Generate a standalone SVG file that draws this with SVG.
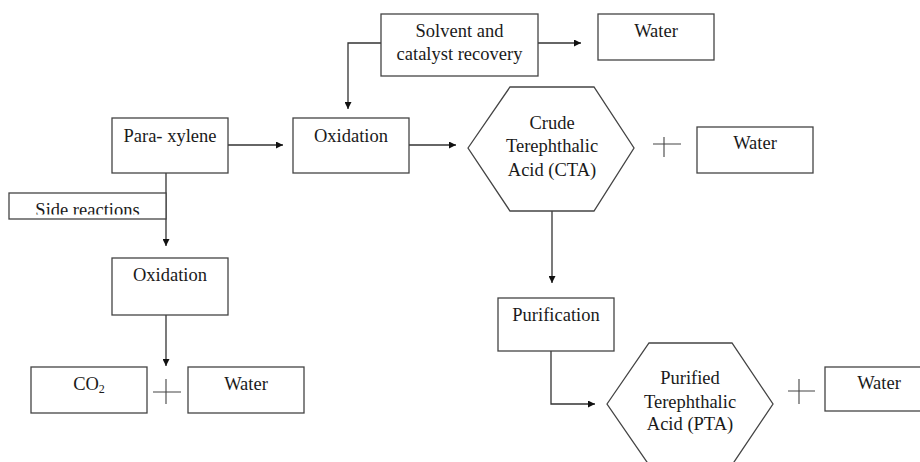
<svg xmlns="http://www.w3.org/2000/svg" width="920" height="462" viewBox="0 0 920 462">
<style>
.box{fill:#fff;stroke:#444;stroke-width:1.3}
.ln{fill:none;stroke:#333;stroke-width:1.3}
.plus{fill:none;stroke:#444;stroke-width:1.1}
text{font-family:"Liberation Serif","Times New Roman",serif;font-size:18.5px;fill:#1a1a1a;text-anchor:middle}
</style>
<defs>
<marker id="ah" viewBox="0 0 10 10" refX="10" refY="5" markerWidth="9" markerHeight="7" markerUnits="userSpaceOnUse" orient="auto">
<path d="M0,0 L10,5 L0,10 Z" fill="#111"/>
</marker>
<clipPath id="sideclip"><rect x="0" y="190" width="170" height="24.5"/></clipPath>
</defs>
<rect width="920" height="462" fill="#fff"/>
<g id="connectors">
<path class="ln" d="M381,43 H348 V109" marker-end="url(#ah)"/>
<path class="ln" d="M538,43 H581" marker-end="url(#ah)"/>
<path class="ln" d="M228,145 H283" marker-end="url(#ah)"/>
<path class="ln" d="M409,145 H456" marker-end="url(#ah)"/>
<path class="ln" d="M166,173 V246" marker-end="url(#ah)"/>
<path class="ln" d="M166,315 V366" marker-end="url(#ah)"/>
<path class="ln" d="M552,211 V283" marker-end="url(#ah)"/>
<path class="ln" d="M551,351 V404 H595" marker-end="url(#ah)"/>
</g>
<g id="solvent">
<rect class="box" x="381" y="14" width="157" height="62"/>
<text x="459.5" y="37">Solvent and</text>
<text x="459.5" y="60">catalyst recovery</text>
</g>
<g id="water-top">
<rect class="box" x="598" y="14" width="116" height="46"/>
<text x="656" y="37">Water</text>
</g>
<g id="paraxylene">
<rect class="box" x="112" y="118" width="116" height="55"/>
<text x="170" y="142">Para- xylene</text>
</g>
<g id="oxidation-main">
<rect class="box" x="293" y="118" width="116" height="55"/>
<text x="351" y="142">Oxidation</text>
</g>
<g id="cta">
<polygon class="box" points="468,148 510,87 594,87 634,148 594,211 510,211"/>
<text x="552" y="129">Crude</text>
<text x="552" y="152">Terephthalic</text>
<text x="552" y="176">Acid (CTA)</text>
</g>
<g id="plus-cta">
<path class="plus" d="M653,144 H681 M664,137 V157"/>
</g>
<g id="water-cta">
<rect class="box" x="697" y="127" width="116" height="46"/>
<text x="755" y="149">Water</text>
</g>
<g id="side-reactions">
<rect class="box" x="9" y="193" width="157" height="26"/>
<text x="87.5" y="216" clip-path="url(#sideclip)">Side reactions</text>
</g>
<g id="oxidation-side">
<rect class="box" x="112" y="258" width="116" height="57"/>
<text x="170" y="281">Oxidation</text>
</g>
<g id="co2">
<rect class="box" x="31" y="367" width="116" height="46"/>
<text x="89" y="390">CO<tspan font-size="12" dy="3">2</tspan></text>
</g>
<g id="plus-co2">
<path class="plus" d="M153,392 H181 M166,379 V404"/>
</g>
<g id="water-side">
<rect class="box" x="188" y="367" width="116" height="46"/>
<text x="246" y="390">Water</text>
</g>
<g id="purification">
<rect class="box" x="498" y="298" width="116" height="53"/>
<text x="556" y="321">Purification</text>
</g>
<g id="pta">
<polygon class="box" points="607,404 649,343 732,343 773,404 732,465 649,465"/>
<text x="690" y="384">Purified</text>
<text x="690" y="408">Terephthalic</text>
<text x="690" y="430">Acid (PTA)</text>
</g>
<g id="plus-pta">
<path class="plus" d="M788,391 H815 M799,379 V404"/>
</g>
<g id="water-pta">
<rect class="box" x="825" y="367" width="110" height="44"/>
<text x="879" y="389">Water</text>
</g>
</svg>
